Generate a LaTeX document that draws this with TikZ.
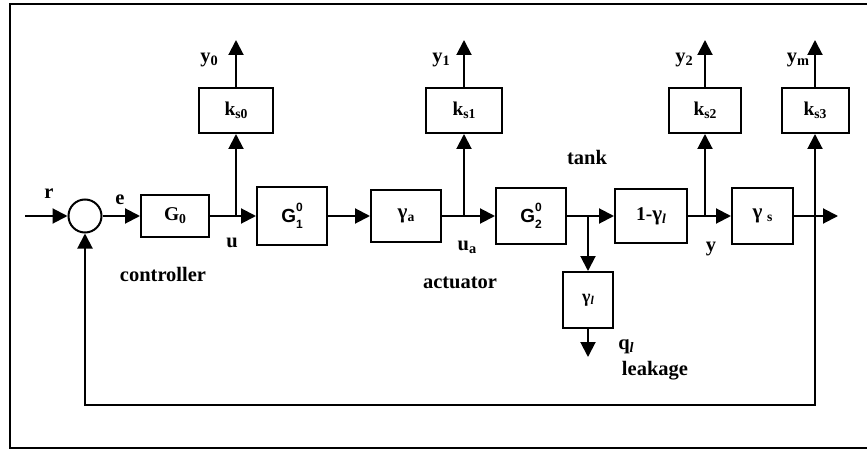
\documentclass[tikz,border=0pt]{standalone}
\usepackage{fontspec}
\setmainfont{Liberation Serif}
\newfontfamily\arialf{Liberation Sans}
\usetikzlibrary{arrows.meta}
\newcommand\sbs[1]{\raisebox{-0.15em}{\scalebox{0.7}{#1}}}
\newcommand\gz[1]{{\arialf\bfseries\fontsize{19}{20}\selectfont G}\makebox[0pt][l]{\raisebox{0.55em}{\arialf\bfseries\fontsize{12}{12}\selectfont 0}}\raisebox{-0.3em}{\arialf\bfseries\fontsize{12}{12}\selectfont #1}}
\newcommand\gam{{\fontsize{21}{22}\selectfont γ}}
\begin{document}
\begin{tikzpicture}[x=1pt,y=-1pt,line width=2pt,
  blk/.style={draw,rectangle,inner sep=0pt,font=\fontsize{19.5}{21}\selectfont\bfseries},
  lbl/.style={font=\fontsize{20.5}{22}\selectfont\bfseries,inner sep=0pt},
  arr/.style={-{Triangle[length=15pt,width=15pt]}}]
\useasboundingbox (0,0) rectangle (867,449);
\draw[line width=1.5pt] (10,4) rectangle (880,448);

% summing junction
\node[draw,circle,minimum size=33pt,inner sep=0pt] (sum) at (85,216) {};

% blocks on the main path
\node[blk,minimum width=68pt,minimum height=41pt] (G0) at (175,216) {G\sbs{0}};
\node[blk,minimum width=70pt,minimum height=57pt] (G1) at (292,216) {\gz{1}};
\node[blk,minimum width=70pt,minimum height=51pt] (ga) at (406,216) {\gam\sbs{a}};
\node[blk,minimum width=70pt,minimum height=56pt] (G2) at (531,216) {\gz{2}};
\node[blk,minimum width=72pt,minimum height=54pt] (L) at (651,216) {1-\gam\sbs{\textit{l}}};
\node[blk,minimum width=61pt,minimum height=56pt] (gs) at (762.5,216) {\gam\ \sbs{s}};

% sensor blocks
\node[blk,minimum width=74pt,minimum height=45pt] (ks0) at (236,110.5) {k\sbs{s0}};
\node[blk,minimum width=76pt,minimum height=45pt] (ks1) at (464,110.5) {k\sbs{s1}};
\node[blk,minimum width=72pt,minimum height=45pt] (ks2) at (705,110.5) {k\sbs{s2}};
\node[blk,minimum width=67pt,minimum height=45pt] (ks3) at (815,110.5) {k\sbs{s3}};

% leakage block
\node[blk,minimum width=50pt,minimum height=56pt,font=\fontsize{17}{18}\selectfont\bfseries] (gl) at (588,300) {{\fontsize{18}{19}\selectfont γ}\sbs{\textit{l}}};

% coordinates
\coordinate (rin) at (25,216);
\coordinate (ju) at (236,216);
\coordinate (jua) at (464,216);
\coordinate (jb) at (588,216);
\coordinate (jy) at (705,216);
\coordinate (jm) at (815,216);
\coordinate (o0) at (236,40);
\coordinate (o1) at (464,40);
\coordinate (o2) at (705,40);
\coordinate (o3) at (815,40);
\coordinate (oq) at (588,357);
\coordinate (out) at (838,216);
\coordinate (fbR) at (815,405);
\coordinate (fbL) at (85,405);

% main path
\draw[arr] (rin) -- (sum.west);
\draw[arr] (sum.east) -- (G0.west);
\draw[arr] (G0.east) -- (G1.west);
\draw[arr] (G1.east) -- (ga.west);
\draw[arr] (ga.east) -- (G2.west);
\draw[arr] (G2.east) -- (L.west);
\draw[arr] (L.east) -- (gs.west);
\draw[arr] (gs.east) -- (out);

% sensor branches
\draw[arr] (ju) -- (ks0.south);
\draw[arr] (ks0.north) -- (o0);
\draw[arr] (jua) -- (ks1.south);
\draw[arr] (ks1.north) -- (o1);
\draw[arr] (jy) -- (ks2.south);
\draw[arr] (ks2.north) -- (o2);
\draw[arr] (jm) -- (ks3.south);
\draw[arr] (ks3.north) -- (o3);

% leakage
\draw[arr] (jb) -- (gl.north);
\draw[arr] (gl.south) -- (oq);

% feedback
\draw[arr] (jm) -- (fbR) -- (fbL) -- (sum.south);

% labels
\node[lbl] (lr) at (49,194) {r};
\node[lbl] (le) at (120,200) {e};
\node[lbl] (lu) at (232,243) {u};
\node[lbl] (ly0) at (209,60) {y\sbs{0}};
\node[lbl] (ly1) at (441,60) {y\sbs{1}};
\node[lbl] (ly2) at (684,60) {y\sbs{2}};
\node[lbl] (lym) at (798,60) {y\sbs{m}};
\node[lbl] (lua) at (467,247) {u\sbs{a}};
\node[lbl] (ly) at (711,249) {y};
\node[lbl] (lq) at (626,347) {q\sbs{\textit{l}}};
\node[lbl] (lleak) at (655,371) {leakage};
\node[lbl] (ltank) at (587,157) {tank};
\node[lbl] (lctrl) at (163,274) {controller};
\node[lbl] (lact) at (460,283) {actuator};
\end{tikzpicture}
\end{document}
